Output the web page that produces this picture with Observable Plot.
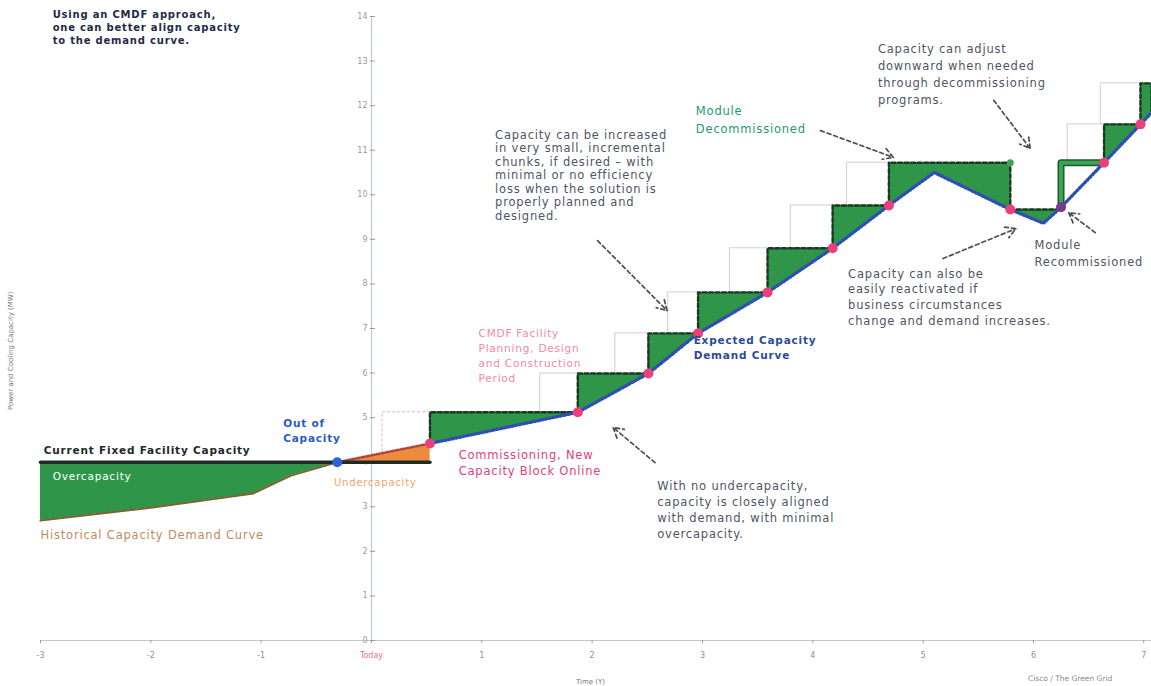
<!DOCTYPE html>
<html><head><meta charset="utf-8">
<script src="https://cdn.jsdelivr.net/npm/d3@7"></script>
<script src="https://cdn.jsdelivr.net/npm/@observablehq/plot@0.6"></script>
<style>
body{margin:0;background:#fff;}
#chart svg{font-family:"DejaVu Sans",Verdana,sans-serif;}
#chart svg text{letter-spacing:0.8px;}
#chart svg g[font-size="7"] text, #chart svg g[font-size="7.5"] text, #chart svg g[font-size="8"] text{letter-spacing:0;}
</style></head><body><div id="chart"></div>
<script>
// ---------- data ----------
const xTicks = [-3, -2, -1, 0, 1, 2, 3, 4, 5, 6, 7];
const xTickLabels = ["-3", "-2", "-1", "Today", "1", "2", "3", "4", "5", "6", "7"];
const yTicks = [0, 1, 2, 3, 4, 5, 6, 7, 8, 9, 10, 11, 12, 13, 14];

// historical demand (before running out of capacity)
const histX = [-3, -2, -1.07, -0.73, -0.31];
const histY = [2.69, 2.98, 3.30, 3.70, 4.0];
// demand while short of capacity
const shortX = [-0.31, 0.53];
const shortY = [4.0, 4.42];
const fixedCapacity = 4.0;
const fixedStart = -3;
const fixedEnd = 0.53;

// expected capacity demand curve
const demandX = [0.53, 1.87, 2.51, 2.96, 3.59, 4.18, 4.69, 5.10, 5.79, 6.09, 6.25, 6.64, 6.97, 7.07];
const demandY = [4.42, 5.12, 5.99, 6.89, 7.81, 8.80, 9.76, 10.50, 9.67, 9.36, 9.72, 10.72, 11.58, 11.84];

// modular capacity blocks
const blockStart = [0.53, 1.87, 2.51, 2.96, 3.59, 4.18, 4.69, 5.79, 6.25, 6.64, 6.97];
const blockEnd   = [1.87, 2.51, 2.96, 3.59, 4.18, 4.69, 5.79, 6.25, 6.64, 6.97, 7.07];
const blockLevel = [5.12, 5.99, 6.89, 7.81, 8.80, 9.76, 10.72, 9.67, 10.72, 11.58, 12.5];
const blockKind  = ["new", "new", "new", "new", "new", "new", "new", "new", "recommissioned", "new", "new"];

// planning / design / construction periods
const planStart = [0.10, 1.53, 2.21, 2.69, 3.25, 3.80, 4.31, 6.31, 6.61];
const planEnd   = [0.53, 1.87, 2.51, 2.96, 3.59, 4.18, 4.69, 6.64, 6.97];
const planFrom  = [4.0, 5.12, 5.99, 6.89, 7.81, 8.80, 9.76, 10.72, 11.58];
const planTo    = [5.12, 5.99, 6.89, 7.81, 8.80, 9.76, 10.72, 11.58, 12.5];

// events
const outOfCapacityX = [-0.31];
const commissionX = [0.53, 1.87, 2.51, 2.96, 3.59, 4.18, 4.69, 5.79, 6.64, 6.97];
const recommissionX = [6.25];

// annotations
const notes = [
  {id: "title", text: "Using an CMDF approach,\none can better align capacity\nto the demand curve.", x: -2.89, y: 14.18},
  {id: "out", text: "Out of\nCapacity", x: -0.80, y: 5.03},
  {id: "fixed", text: "Current Fixed Facility Capacity", x: -2.97, y: 4.26},
  {id: "over", text: "Overcapacity", x: -2.89, y: 3.68},
  {id: "under", text: "Undercapacity", x: -0.34, y: 3.54},
  {id: "hist", text: "Historical Capacity Demand Curve", x: -3.0, y: 2.36},
  {id: "commission", text: "Commissioning, New\nCapacity Block Online", x: 0.79, y: 4.33},
  {id: "cmdf", text: "CMDF Facility\nPlanning, Design\nand Construction\nPeriod", x: 0.97, y: 7.05},
  {id: "expected", text: "Expected Capacity\nDemand Curve", x: 2.92, y: 6.89},
  {id: "increase", text: "Capacity can be increased\nin very small, incremental\nchunks, if desired \u2013 with\nminimal or no efficiency\nloss when the solution is\nproperly planned and\ndesigned.", x: 1.12, y: 11.47},
  {id: "aligned", text: "With no undercapacity,\ncapacity is closely aligned\nwith demand, with minimal\novercapacity.", x: 2.59, y: 3.63},
  {id: "decom", text: "Module\nDecommissioned", x: 2.94, y: 12.05},
  {id: "adjust", text: "Capacity can adjust\ndownward when needed\nthrough decommissioning\nprograms.", x: 4.59, y: 13.46},
  {id: "reactivate", text: "Capacity can also be\neasily reactivated if\nbusiness circumstances\nchange and demand increases.", x: 4.32, y: 8.39},
  {id: "recom", text: "Module\nRecommissioned", x: 6.01, y: 9.06}
];
const arrows = [
  {x1: 2.05, y1: 8.97, x2: 2.68, y2: 7.40},
  {x1: 2.57, y1: 3.99, x2: 2.19, y2: 4.78},
  {x1: 4.07, y1: 11.44, x2: 4.73, y2: 10.84},
  {x1: 5.64, y1: 12.12, x2: 5.97, y2: 11.04},
  {x1: 5.18, y1: 8.57, x2: 5.84, y2: 9.24},
  {x1: 6.56, y1: 9.15, x2: 6.32, y2: 9.60}
];
const yLabel = "Power and Cooling Capacity (MW)";
const xLabel = "Time (Y)";
const source = "Cisco / The Green Grid";

// ---------- derived tables ----------
const demandAt = x => demandY[demandX.indexOf(x)];
const hist = histX.map((x, i) => ({x, y: histY[i], cap: fixedCapacity}));
const short = shortX.map((x, i) => ({x, y: shortY[i], cap: fixedCapacity}));
const demand = demandX.map((x, i) => ({x, y: demandY[i]}));
const blocks = blockStart.map((s, i) => ({i, start: s, end: blockEnd[i], level: blockLevel[i], kind: blockKind[i]}));
const filled = blocks.filter(b => b.kind === "new");
const blockArea = filled.flatMap(b => demand.filter(d => d.x >= b.start && d.x <= b.end).map(d => ({g: b.i, x: d.x, y1: d.y, y2: b.level})));
const blockOutline = filled.flatMap(b => [
  {g: b.i, x: b.start, y: demandAt(b.start)}, {g: b.i, x: b.start, y: b.level},
  {g: b.i, x: b.end, y: b.level}, {g: b.i, x: b.end, y: demandAt(b.end)}]);
const recom = blocks.filter(b => b.kind === "recommissioned").flatMap(b => [
  {g: b.i, x: b.start, y: demandAt(b.start)}, {g: b.i, x: b.start, y: b.level}, {g: b.i, x: b.end, y: b.level}]);
const plans = planStart.map((s, i) => ({x1: s, x2: planEnd[i], y1: planFrom[i], y2: planTo[i], first: i === 0}));
const fixedLine = [{x: fixedStart, y: fixedCapacity}, {x: fixedEnd, y: fixedCapacity}];
const note = id => notes.filter(d => d.id === id);
const ticks = xTicks.map((x, i) => ({x, label: xTickLabels[i]}));

const GREEN = "#2e9549";
const GRAYTXT = "#4e5566";
const txt = (id, o) => Plot.text(note(id), {x: "x", y: "y", text: "text", textAnchor: "start", lineAnchor: "top", ...o});

const chart = Plot.plot({
  width: 1151, height: 686,
  marginLeft: 40, marginRight: 0, marginTop: 16, marginBottom: 46,
  style: {fontFamily: '"DejaVu Sans", Verdana, sans-serif', background: "#fff", overflow: "visible"},
  x: {domain: [-3, 7.07], axis: null},
  y: {domain: [0, 14], axis: null},
  marks: [
    // planning periods
    Plot.rect(plans.filter(p => !p.first), {x1: "x1", x2: "x2", y1: "y1", y2: "y2", fill: "none", stroke: "#cfcfd4", strokeWidth: 1}),
    Plot.rect(plans.filter(p => p.first), {x1: "x1", x2: "x2", y1: "y1", y2: "y2", fill: "none", stroke: "#e9b4bf", strokeWidth: 1, strokeDasharray: "3,2"}),
    // axes
    Plot.ruleY([0], {x1: -3, x2: 7.07, stroke: "#c4c7d6", strokeWidth: 1.2}),
    Plot.ruleX([0], {y1: 0, y2: 14, stroke: "#c4c7de", strokeWidth: 1.2}),
    Plot.axisY({ticks: yTicks, anchor: "left", dx: 335, tickSize: 5, tickPadding: 3, fontSize: 8, color: "#9a9aa4", label: null}),
    Plot.axisX({ticks: xTicks, anchor: "bottom", tickSize: 3, tickFormat: () => "", color: "#9a9aa4", label: null}),
    Plot.text(ticks.filter(t => t.x !== 0), {x: "x", y: -0.34, text: "label", fontSize: 8, fill: "#8e8e96"}),
    Plot.text(ticks.filter(t => t.x === 0), {x: "x", y: -0.34, text: "label", fontSize: 8, fill: "#e8708e"}),
    // over / under capacity
    Plot.areaY(hist, {x: "x", y1: "y", y2: "cap", fill: GREEN}),
    Plot.areaY(short, {x: "x", y1: "y", y2: "cap", fill: "#ee8a3c"}),
    // capacity blocks
    Plot.areaY(blockArea, {x: "x", y1: "y1", y2: "y2", z: "g", fill: GREEN}),
    Plot.line(blockOutline, {x: "x", y: "y", z: "g", stroke: "#173a20", strokeWidth: 2.4, strokeDasharray: "4,2.5"}),
    Plot.line(recom, {x: "x", y: "y", z: "g", stroke: "#1f5a2c", strokeWidth: 7}),
    Plot.line(recom, {x: "x", y: "y", z: "g", stroke: "#3aa552", strokeWidth: 4}),
    // lines
    Plot.line(hist, {x: "x", y: "y", stroke: "#7c6336", strokeWidth: 2}),
    Plot.line(short, {x: "x", y: "y", stroke: "#b0443a", strokeWidth: 2.5, strokeDasharray: "3,2"}),
    Plot.line(fixedLine, {x: "x", y: "y", stroke: "#1d2c24", strokeWidth: 3.5}),
    Plot.line(demand, {x: "x", y: "y", stroke: "#2f4fb0", strokeWidth: 3.4, strokeDasharray: "1.2,2.6", strokeLinecap: "round"}),
    // events
    Plot.dot(outOfCapacityX, {x: d => d, y: fixedCapacity, r: 5, fill: "#2d62d8"}),
    Plot.dot(commissionX, {x: d => d, y: d => demandAt(d), r: 5, fill: "#ec3f7e"}),
    Plot.dot(recommissionX, {x: d => d, y: d => demandAt(d), r: 5, fill: "#7b3a86"}),
    Plot.dot([blocks[6]], {x: "end", y: "level", r: 3.5, fill: "#3aa552"}),
    // arrows
    Plot.arrow(arrows, {x1: "x1", y1: "y1", x2: "x2", y2: "y2", stroke: "#4b4f58", strokeWidth: 1.7, strokeDasharray: "4,3", headLength: 10}),
    // annotations
    txt("title", {fontSize: 10, fontWeight: "bold", fill: "#1f2a48", lineHeight: 1.3}),
    txt("out", {fontSize: 10.5, fontWeight: "bold", fill: "#2b5cc2", lineHeight: 1.45}),
    txt("fixed", {fontSize: 10.5, fontWeight: "bold", fill: "#1c2a2a", lineAnchor: "middle"}),
    txt("over", {fontSize: 10.5, fill: "#ffffff", lineAnchor: "middle"}),
    txt("under", {fontSize: 10, fill: "#f2a56a", lineAnchor: "middle"}),
    txt("hist", {fontSize: 11.5, fill: "#c08b62", lineAnchor: "middle"}),
    txt("commission", {fontSize: 11.5, fill: "#e2407c", lineHeight: 1.39}),
    txt("cmdf", {fontSize: 10.5, fill: "#f2899f", lineHeight: 1.43}),
    txt("expected", {fontSize: 10.5, fontWeight: "bold", fill: "#2c4a9e", lineHeight: 1.45}),
    txt("increase", {fontSize: 11.5, fill: GRAYTXT, lineHeight: 1.17}),
    txt("aligned", {fontSize: 11.5, fill: GRAYTXT, lineHeight: 1.39}),
    txt("decom", {fontSize: 11.5, fill: "#23977a", lineHeight: 1.48}),
    txt("adjust", {fontSize: 11.5, fill: GRAYTXT, lineHeight: 1.48}),
    txt("reactivate", {fontSize: 11.5, fill: GRAYTXT, lineHeight: 1.37}),
    txt("recom", {fontSize: 11.5, fill: GRAYTXT, lineHeight: 1.48}),
    // axis titles / source
    Plot.text([yLabel], {x: -3.27, y: 6.5, text: d => d, rotate: -90, fontSize: 7, fill: "#777"}),
    Plot.text([xLabel], {x: 1.985, y: -0.92, text: d => d, fontSize: 7, fill: "#777"}),
    Plot.text([source], {x: 5.95, y: -0.85, text: d => d, textAnchor: "start", fontSize: 7.5, fill: "#888"})
  ]
});
document.getElementById("chart").appendChild(chart);
</script></body></html>
